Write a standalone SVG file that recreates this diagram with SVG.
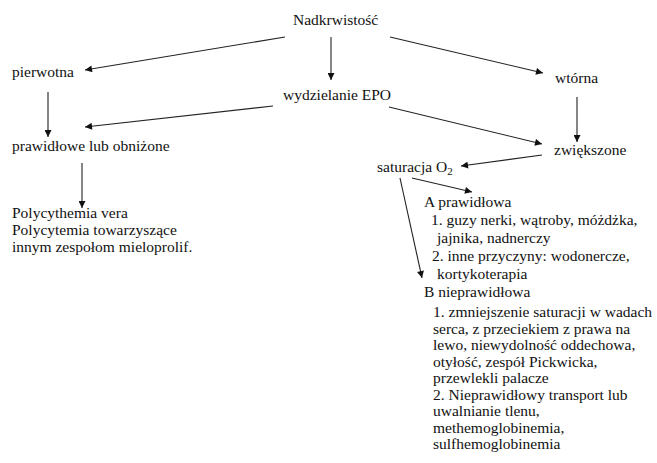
<svg xmlns="http://www.w3.org/2000/svg" width="657" height="463" viewBox="0 0 657 463">
<defs>
<marker id="ah" viewBox="0 0 10 10" refX="10" refY="5" markerWidth="9" markerHeight="7" markerUnits="userSpaceOnUse" orient="auto">
<path d="M0,0 L10,5 L0,10 z" fill="#111"/>
</marker>
</defs>
<style>
text{font-family:"Liberation Serif","Times New Roman",serif;font-size:15.5px;fill:#111}
.c line{stroke:#222;stroke-width:1.1;marker-end:url(#ah)}
</style>
<rect width="657" height="463" fill="#fff"/>
<g class="c" id="connectors">
<line x1="285" y1="37" x2="85" y2="70"/>
<line x1="331" y1="37" x2="331" y2="80"/>
<line x1="390" y1="37" x2="543" y2="73"/>
<line x1="48" y1="92" x2="48" y2="137"/>
<line x1="273" y1="106" x2="85" y2="127"/>
<line x1="389" y1="107" x2="542" y2="144"/>
<line x1="577" y1="97" x2="577" y2="142"/>
<line x1="82" y1="163" x2="82" y2="208"/>
<line x1="542" y1="155" x2="461" y2="166"/>
<line x1="412" y1="178" x2="472" y2="192"/>
<line x1="400" y1="178" x2="422" y2="278"/>
</g>
<g id="n-nadkrwistosc"><text x="293" y="25">Nadkrwistość</text></g>
<g id="n-pierwotna"><text x="12" y="77">pierwotna</text></g>
<g id="n-epo"><text x="283" y="100">wydzielanie EPO</text></g>
<g id="n-wtorna"><text x="555" y="83">wtórna</text></g>
<g id="n-prawidlowe"><text x="12" y="151">prawidłowe lub obniżone</text></g>
<g id="n-zwiekszone"><text x="554" y="155">zwiększone</text></g>
<g id="n-polycythemia">
<text x="12" y="218">Polycythemia vera</text>
<text x="12" y="235">Polycytemia towarzyszące</text>
<text x="12" y="251.5">innym zespołom mieloprolif.</text>
</g>
<g id="n-saturacja"><text x="377" y="172">saturacja O<tspan font-size="11" dy="3">2</tspan></text></g>
<g id="n-a">
<text x="424" y="207">A prawidłowa</text>
<text x="431" y="225">1. guzy  nerki, wątroby, móżdżka,</text>
<text x="437" y="243">jajnika, nadnerczy</text>
<text x="432" y="261">2. inne przyczyny: wodonercze,</text>
<text x="437" y="279">kortykoterapia</text>
</g>
<g id="n-b">
<text x="424" y="297">B nieprawidłowa</text>
<text x="433" y="317">1. zmniejszenie saturacji w wadach</text>
<text x="433" y="333.5">serca, z przeciekiem z prawa na</text>
<text x="433" y="350">lewo, niewydolność oddechowa,</text>
<text x="433" y="366.5">otyłość, zespół Pickwicka,</text>
<text x="433" y="383">przewlekli palacze</text>
<text x="433" y="399.5">2. Nieprawidłowy transport lub</text>
<text x="433" y="416">uwalnianie tlenu,</text>
<text x="433" y="432.5">methemoglobinemia,</text>
<text x="433" y="449">sulfhemoglobinemia</text>
</g>
</svg>
